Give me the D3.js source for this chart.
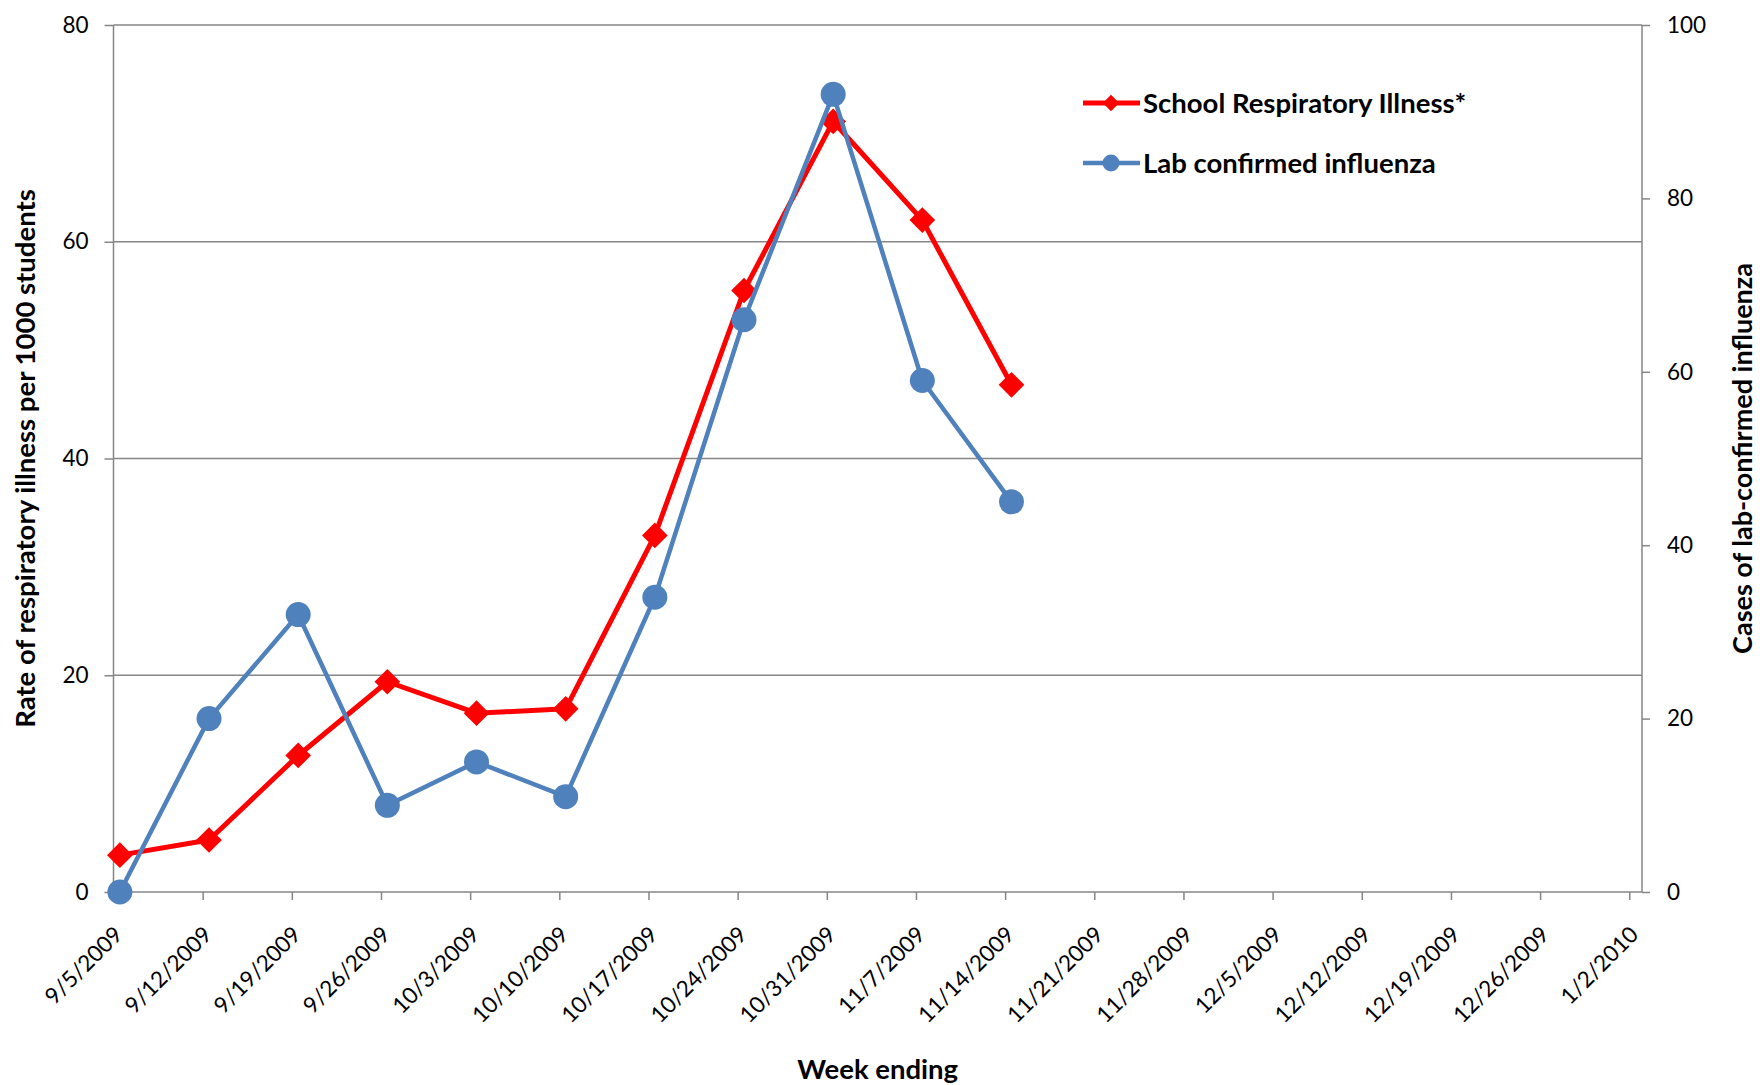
<!DOCTYPE html>
<html>
<head>
<meta charset="utf-8">
<script src="https://cdn.jsdelivr.net/npm/d3@7"></script>
<style>
  html, body { margin: 0; padding: 0; background: #fff; }
  svg { display: block; font-family: Lato, "Open Sans", sans-serif; }
</style>
</head>
<body>
<svg id="chart" width="1760" height="1085"></svg>
<script>
// ---- data ----
const weekLabels = ["9/5/2009","9/12/2009","9/19/2009","9/26/2009","10/3/2009","10/10/2009",
  "10/17/2009","10/24/2009","10/31/2009","11/7/2009","11/14/2009","11/21/2009","11/28/2009",
  "12/5/2009","12/12/2009","12/19/2009","12/26/2009","1/2/2010"];
const dataWeeks = ["9/5/2009","9/12/2009","9/19/2009","9/26/2009","10/3/2009","10/10/2009",
  "10/17/2009","10/24/2009","10/31/2009","11/7/2009","11/14/2009"];
const schoolIllness = [3.4, 4.8, 12.6, 19.4, 16.5, 16.9, 32.9, 55.5, 71.1, 62.0, 46.8];
const labConfirmed = [0, 20, 32, 10, 15, 11, 34, 66, 92, 59, 45];
const leftTicks = [0, 20, 40, 60, 80];
const rightTicks = [0, 20, 40, 60, 80, 100];
const seriesNames = ["School Respiratory Illness*", "Lab confirmed influenza"];

const parse = d3.timeParse("%m/%d/%Y");
const svg = d3.select("#chart");
const m = { left: 113.5, right: 1642, top: 25, bottom: 892 };
const gray = "#868686";
const FONT = "Lato, 'Open Sans', sans-serif";

const tickDates = weekLabels.map(parse);
const x = d3.scaleTime()
  .domain([tickDates[0], d3.timeDay.offset(tickDates[tickDates.length - 1], 1)])
  .range([m.left, m.right]);
const xPt = s => x(d3.timeHour.offset(parse(s), 12));
const yL = d3.scaleLinear().domain([0, 80]).range([m.bottom, m.top]);
const yR = d3.scaleLinear().domain([0, 100]).range([m.bottom, m.top]);

// gridlines
svg.append("g").selectAll("line").data(leftTicks.filter(d => d > 0)).join("line")
  .attr("x1", m.left).attr("x2", m.right)
  .attr("y1", d => yL(d)).attr("y2", d => yL(d))
  .attr("stroke", gray).attr("stroke-width", 1.5);

// left axis
const gL = svg.append("g").attr("transform", `translate(${m.left},0)`)
  .call(d3.axisLeft(yL).tickValues(leftTicks).tickSize(9).tickPadding(16).tickFormat(d3.format("d")));
// right axis
const gR = svg.append("g").attr("transform", `translate(${m.right},0)`)
  .call(d3.axisRight(yR).tickValues(rightTicks).tickSize(8).tickPadding(17).tickFormat(d3.format("d")));
// bottom axis
const gB = svg.append("g").attr("transform", `translate(0,${m.bottom})`)
  .call(d3.axisBottom(x).tickValues(tickDates).tickSize(8).tickFormat((d, i) => weekLabels[i]));

[gL, gR, gB].forEach(g => {
  g.attr("font-family", FONT).attr("font-size", null);
  g.select(".domain").attr("stroke", gray).attr("stroke-width", 1.5);
  g.selectAll(".tick line").attr("stroke", gray).attr("stroke-width", 1.5);
  g.selectAll(".tick text").attr("fill", "#000").style("font-size", "22.5px").style("font-family", FONT);
});
gL.select(".domain").attr("d", `M0,${m.top}V${m.bottom}`);
gR.select(".domain").attr("d", `M0,${m.top}V${m.bottom}`);
gB.select(".domain").attr("d", `M${m.left},0H${m.right}`);
gB.selectAll(".tick text")
  .attr("text-anchor", "end")
  .attr("dy", null)
  .attr("y", 0)
  .attr("transform", "translate(10,44) rotate(-45)");

// lines
const lineL = d3.line().x((d, i) => xPt(dataWeeks[i])).y(d => yL(d));
const lineR = d3.line().x((d, i) => xPt(dataWeeks[i])).y(d => yR(d));
const red = "#FF0000", blue = "#4F81BD";

svg.append("path").datum(schoolIllness).attr("d", lineL)
  .attr("fill", "none").attr("stroke", red).attr("stroke-width", 5).attr("stroke-linejoin", "round");
const diamond = d3.symbol().type(d3.symbolDiamond2);
svg.append("g").selectAll("path").data(schoolIllness).join("path")
  .attr("d", diamond.size(420)())
  .attr("transform", (d, i) => `translate(${xPt(dataWeeks[i])},${yL(d)})`)
  .attr("fill", red);

svg.append("path").datum(labConfirmed).attr("d", lineR)
  .attr("fill", "none").attr("stroke", blue).attr("stroke-width", 4.5).attr("stroke-linejoin", "round");
svg.append("g").selectAll("circle").data(labConfirmed).join("circle")
  .attr("cx", (d, i) => xPt(dataWeeks[i])).attr("cy", d => yR(d)).attr("r", 12.5)
  .attr("fill", blue);

// legend
const leg = svg.append("g");
const legY = [103, 163];
const legColors = [red, blue];
seriesNames.forEach((name, i) => {
  leg.append("line").attr("x1", 1083).attr("x2", 1140).attr("y1", legY[i]).attr("y2", legY[i])
    .attr("stroke", legColors[i]).attr("stroke-width", i === 0 ? 5 : 4.5);
  if (i === 0) {
    leg.append("path").attr("d", diamond.size(170)())
      .attr("transform", `translate(1111,${legY[i]})`).attr("fill", red);
  } else {
    leg.append("circle").attr("cx", 1111).attr("cy", legY[i]).attr("r", 8.5).attr("fill", blue);
  }
  leg.append("text").attr("x", 1143).attr("y", legY[i]).attr("dy", "0.35em")
    .style("font-size", "27.5px").style("font-weight", "bold").text(name);
});

// axis titles
svg.append("text").attr("transform", `translate(35,${(m.top + m.bottom) / 2}) rotate(-90)`)
  .attr("text-anchor", "middle").style("font-size", "27.5px").style("font-weight", "bold")
  .text("Rate of respiratory illness per 1000 students");
svg.append("text").attr("transform", `translate(1752,${(m.top + m.bottom) / 2}) rotate(-90)`)
  .attr("text-anchor", "middle").style("font-size", "27px").style("font-weight", "bold")
  .text("Cases of lab-confirmed influenza");
svg.append("text").attr("x", (m.left + m.right) / 2).attr("y", 1079)
  .attr("text-anchor", "middle").style("font-size", "27.5px").style("font-weight", "bold")
  .text("Week ending");
</script>
</body>
</html>
